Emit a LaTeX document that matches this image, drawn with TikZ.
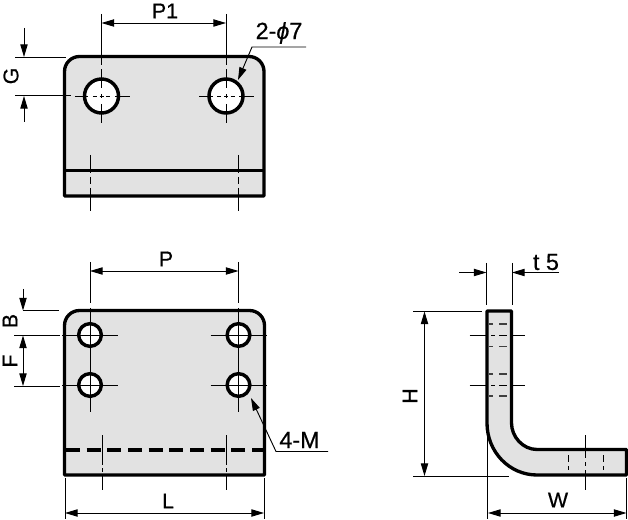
\documentclass[tikz,border=0pt]{standalone}
\usepackage{fontspec}
\setmainfont[FakeBold=0.6]{Liberation Sans}
\usetikzlibrary{arrows.meta}
\tikzset{
  part/.style={draw=black,line width=2.5pt,fill=partfill,line join=round},
  hole/.style={draw=black,line width=2.6pt,fill=white},
  thin/.style={draw=black,line width=0.7pt},
  ctr/.style={thin},
  dimline/.style={thin,{Triangle[length=9.5pt,width=5.5pt]}-{Triangle[length=9.5pt,width=5.5pt]}},
  lead/.style={thin,-{Triangle[length=9.5pt,width=5.5pt]}},
  label/.style={inner sep=0pt,font=\fontsize{16}{16}\selectfont},
  biglabel/.style={inner sep=0pt,font=\fontsize{17.5}{17.5}\selectfont},
  hidden/.style={draw=black!75,line width=1.2pt},
}
\definecolor{partfill}{HTML}{E2E2E2}
\begin{document}
\begin{tikzpicture}[x=0.75pt,y=-0.75pt]
\useasboundingbox (0,0) rectangle (628,520);
% ---------- top view
\draw[part] (64.5,196) -- (64.5,71.5) .. controls (64.5,63.2) and (71.2,56.5) .. (79.5,56.5) -- (249,56.5)
  .. controls (257.3,56.5) and (264,63.2) .. (264,71.5) -- (264,196) -- cycle;
\draw[part,fill=none] (64.5,170.5) -- (264,170.5);
\node[hole,circle,minimum size=25.5pt,inner sep=0pt] (h1) at (101.5,96) {};
\node[hole,circle,minimum size=25.5pt,inner sep=0pt] (h2) at (226,96) {};
\foreach \c in {h1,h2}{
  \draw[ctr] ([xshift=-20pt]\c.center) -- ([xshift=-10pt]\c.center);
  \draw[ctr,dash pattern=on 3pt off 2pt] ([xshift=-6.5pt]\c.center) -- ([xshift=7pt]\c.center);
  \draw[ctr] ([xshift=10pt]\c.center) -- ([xshift=21pt]\c.center);
  \draw[ctr] ([yshift=-6pt]\c.center) -- ([yshift=-20pt]\c.center);
  \draw[ctr] ([yshift=-1.5pt]\c.center) -- ([yshift=1.5pt]\c.center);
  \draw[ctr] ([yshift=6pt]\c.center) -- ([yshift=20pt]\c.center);
}
\coordinate (p1a) at (101.5,23); \coordinate (p1b) at (226,23);
\draw[thin] (101.5,14) -- (101.5,65);
\draw[thin] (226,14) -- (226,65);
\draw[dimline] (p1a) -- (p1b);
\node[label] (P1) at (165,11) {P1};
\coordinate (ga) at (24,57); \coordinate (gb) at (24,96);
\draw[thin] (15,57.5) -- (66,57.5);
\draw[thin] (15,95.5) -- (71,95.5);
\draw[lead] (24,28) -- (ga);
\draw[lead] (24,122) -- (gb);
\node[label,rotate=90] (G) at (11,76) {G};
\node[biglabel] (phi) at (279,33) {2-{\itshape ϕ}7};
\coordinate (ph) at (306,47); \coordinate (pk) at (252,47);
\draw[lead] (ph) -- (pk) -- (238,80);
\foreach \x in {90,238}{
  \draw[thin] (\x,155) -- (\x,173);
  \draw[thin] (\x,177) -- (\x,184);
  \draw[thin] (\x,188) -- (\x,211);
}
% ---------- front view
\draw[part] (64.5,475) -- (64.5,325.5) .. controls (64.5,317.2) and (71.2,310.5) .. (79.5,310.5) -- (249.5,310.5)
  .. controls (257.8,310.5) and (264.5,317.2) .. (264.5,325.5) -- (264.5,475) -- cycle;
\draw[line width=3pt,dash pattern=on 10.5pt off 5pt,draw=black] (66,449.5) -- (263,449.5);
\foreach \n/\x/\y in {a/90/335,b/90/385,c/238.5/335,d/238.5/385}{
  \node[hole,circle,minimum size=17pt,inner sep=0pt] (m\n) at (\x,\y) {};
  \draw[ctr] ([xshift=-21pt]m\n.center) -- ([xshift=21pt]m\n.center);
  \draw[ctr] ([yshift=-20pt]m\n.center) -- ([yshift=20pt]m\n.center);
}
\draw[thin] (90,262) -- (90,303);
\draw[thin] (238.5,262) -- (238.5,303);
\coordinate (pa) at (90,271); \coordinate (pb) at (238.5,271);
\draw[dimline] (pa) -- (pb);
\node[label] (Ptxt) at (166,259) {P};
\coordinate (ba) at (23,310.5); \coordinate (fa) at (23,335.5); \coordinate (fb) at (23,386);
\draw[thin] (23,310.5) -- (59,310.5);
\draw[thin] (14,335.5) -- (60,335.5);
\draw[thin] (14,386) -- (60,386);
\draw[lead] (23,289) -- (ba);
\draw[dimline] (fa) -- (fb);
\node[label,rotate=90] (B) at (10,321) {B};
\node[label,rotate=90] (F) at (10,361) {F};
\foreach \x in {102,226}{
  \draw[thin] (\x,435) -- (\x,465);
  \draw[thin] (\x,468) -- (\x,472);
  \draw[thin] (\x,475) -- (\x,490);
}
\draw[thin] (65,478) -- (65,519);
\draw[thin] (264,478) -- (264,519);
\coordinate (la) at (65,513); \coordinate (lb) at (264,513);
\draw[dimline] (la) -- (lb);
\node[label] (L) at (168,501) {L};
\node[biglabel] (M) at (299.5,440) {4-M};
\coordinate (mh) at (328,451.5); \coordinate (mk) at (276,451.5);
\draw[lead] (mh) -- (mk) -- (251,398);
% ---------- side view
\draw[part] (487,311) -- (511.5,311) -- (511.5,423) .. controls (511.5,437) and (523,449.5) .. (537,449.5)
  -- (626.5,449.5) -- (626.5,475) -- (537,475) .. controls (509.5,475) and (487,452) .. (487,423) -- cycle;
\foreach \y in {324,346.5,374,396}{
  \draw[hidden] (489,\y) -- (493,\y);
  \draw[hidden] (499,\y) -- (507,\y);
}
\foreach \y in {335,385}{
  \draw[thin] (469.5,\y) -- (488,\y);
  \draw[thin] (491,\y) -- (495,\y);
  \draw[thin] (499,\y) -- (507,\y);
  \draw[thin] (510,\y) -- (525,\y);
}
\draw[thin] (486.5,263) -- (486.5,305);
\draw[thin] (512,263) -- (512,305);
\coordinate (ta) at (486.5,272.5); \coordinate (tb) at (512,272.5);
\draw[lead] (459,272.5) -- (ta);
\draw[lead] (559,272.5) -- (tb);
\node[biglabel] (t5) at (546,262) {t 5};
\draw[thin] (413,311.5) -- (482,311.5);
\draw[thin] (413,476) -- (509,476);
\coordinate (ha) at (424.5,311.5); \coordinate (hb) at (424.5,476);
\draw[dimline] (ha) -- (hb);
\node[label,rotate=90] (H) at (410,396) {H};
\draw[thin] (487.5,433) -- (487.5,519);
\draw[thin] (626.5,478) -- (626.5,519);
\coordinate (wa) at (488,513); \coordinate (wb) at (626.5,513);
\draw[dimline] (wa) -- (wb);
\node[label] (W) at (558,500) {W};
\draw[thin] (585.7,435) -- (585.7,458);
\draw[thin] (585.7,462) -- (585.7,466);
\draw[thin] (585.7,470) -- (585.7,490);
\foreach \x in {568.7,603.7}{
  \draw[thin] (\x,455) -- (\x,462);
  \draw[thin] (\x,466) -- (\x,470);
}
\end{tikzpicture}
\end{document}
